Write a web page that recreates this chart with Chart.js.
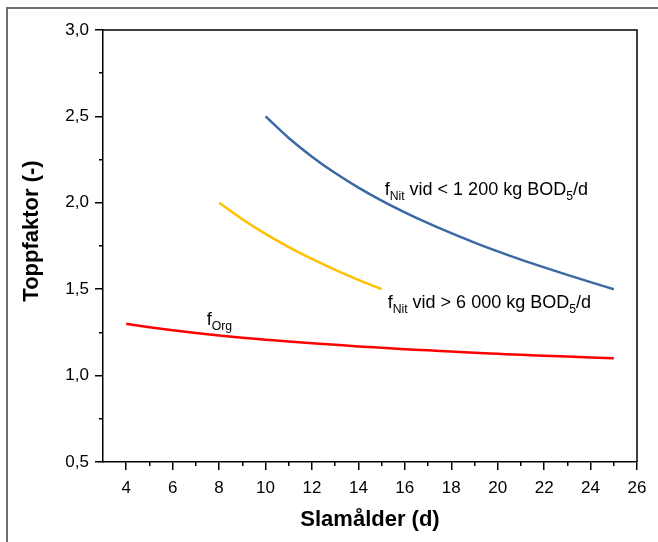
<!DOCTYPE html>
<html>
<head>
<meta charset="utf-8">
<script src="https://cdn.jsdelivr.net/npm/chart.js@4"></script>
<style>
  html, body { margin: 0; padding: 0; background: #fff; overflow: hidden; }
  #frame { position: absolute; left: 6px; top: 7px; width: 720px; height: 620px; border: 2px solid #6e6e6e; box-sizing: border-box; }
  #chart { position: absolute; left: 0; top: 0; }
</style>
</head>
<body>
<div id="frame"></div>
<canvas id="chart" width="658" height="542"></canvas>
<script>
// values
const orgDays = [4, 5, 6, 7, 8, 9, 10, 11, 12, 13, 14, 15, 16, 17, 18, 19, 20, 21, 22, 23, 24, 25];
const orgFactor = [1.300, 1.280, 1.262, 1.246, 1.232, 1.219, 1.208, 1.197, 1.187, 1.178, 1.169, 1.161, 1.153, 1.146, 1.139, 1.132, 1.126, 1.120, 1.115, 1.110, 1.105, 1.100];

const nitLowDays = [10, 11, 12, 13, 14, 15, 16, 17, 18, 19, 20, 21, 22, 23, 24, 25];
const nitLowFactor = [2.500, 2.375, 2.267, 2.172, 2.088, 2.013, 1.945, 1.882, 1.824, 1.770, 1.719, 1.671, 1.626, 1.583, 1.541, 1.500];

const nitHighDays = [8, 9, 10, 11, 12, 13, 14, 15];
const nitHighFactor = [2.000, 1.905, 1.820, 1.744, 1.675, 1.612, 1.554, 1.500];

const xTicks = [4, 6, 8, 10, 12, 14, 16, 18, 20, 22, 24, 26];
const xMinorTicks = [5, 7, 9, 11, 13, 15, 17, 19, 21, 23, 25];
const yTicks = [0.5, 1.0, 1.5, 2.0, 2.5, 3.0];
const yMinorTicks = [0.75, 1.25, 1.75, 2.25, 2.75];

const xTitle = "Slamålder (d)";
const yTitle = "Toppfaktor (-)";

// labels on the curves: text parts, anchor in data units (x, y of baseline)
const noteNitLow = [{ t: "f" }, { t: "Nit", sub: true }, { t: " vid < 1 200 kg BOD" }, { t: "5", sub: true }, { t: "/d" }];
const noteNitHigh = [{ t: "f" }, { t: "Nit", sub: true }, { t: " vid > 6 000 kg BOD" }, { t: "5", sub: true }, { t: "/d" }];
const noteOrg = [{ t: "f" }, { t: "Org", sub: true }];
const notes = [
  { parts: noteNitLow, at: [15.13, 2.045] },
  { parts: noteNitHigh, at: [15.26, 1.391] },
  { parts: noteOrg, at: [7.47, 1.293] },
];

const FONT = '"Liberation Sans", Arial, sans-serif';

function pairs(xs, ys) {
  return xs.map((x, i) => ({ x: x, y: ys[i] }));
}

function curve(label, xs, ys, color) {
  return {
    label: label,
    data: pairs(xs, ys),
    borderColor: color,
    borderWidth: 2.5,
    pointRadius: 0,
    cubicInterpolationMode: "monotone",
    fill: false,
  };
}

function drawRich(ctx, x, y, parts, size) {
  let cx = x;
  parts.forEach((p) => {
    const s = p.sub ? size * 0.68 : size;
    ctx.font = `${s}px ${FONT}`;
    ctx.fillText(p.t, cx, p.sub ? y + size * 0.26 : y);
    cx += ctx.measureText(p.t).width;
  });
}

const extras = {
  id: "extras",
  afterDraw(chart) {
    const { ctx, chartArea, scales } = chart;
    ctx.save();
    // top and right sides of the plot box
    ctx.strokeStyle = "#000";
    ctx.lineWidth = 1.5;
    ctx.beginPath();
    ctx.moveTo(chartArea.left, chartArea.top);
    ctx.lineTo(chartArea.right, chartArea.top);
    ctx.lineTo(chartArea.right, chartArea.bottom);
    ctx.stroke();

    ctx.fillStyle = "#000";
    ctx.textBaseline = "alphabetic";
    ctx.textAlign = "left";
    notes.forEach((n) => {
      drawRich(ctx, scales.x.getPixelForValue(n.at[0]), scales.y.getPixelForValue(n.at[1]), n.parts, 18);
    });

    // axis titles
    ctx.font = `bold 22px ${FONT}`;
    ctx.textAlign = "center";
    ctx.textBaseline = "middle";
    ctx.fillText(xTitle, (chartArea.left + chartArea.right) / 2, 520);
    ctx.translate(32, 231);
    ctx.rotate(-Math.PI / 2);
    ctx.fillText(yTitle, 0, 0);
    ctx.restore();
  },
};

const tickFont = { family: FONT, size: 17 };

new Chart(document.getElementById("chart"), {
  type: "line",
  data: {
    datasets: [
      curve("fNit < 1200", nitLowDays, nitLowFactor, "#3a69a3"),
      curve("fNit > 6000", nitHighDays, nitHighFactor, "#ffc000"),
      curve("fOrg", orgDays, orgFactor, "#ff0000"),
    ],
  },
  options: {
    responsive: false,
    devicePixelRatio: 1,
    animation: false,
    layout: { padding: { left: 0, top: 30, right: 21, bottom: 0 } },
    plugins: { legend: { display: false }, tooltip: { enabled: false } },
    scales: {
      x: {
        type: "linear",
        position: "bottom",
        weight: 1,
        min: 3,
        max: 26,
        afterBuildTicks: (s) => { s.ticks = xTicks.map((v) => ({ value: v })); },
        afterFit: (s) => { s.height = 80; },
        ticks: { color: "#000", font: tickFont, padding: 8, maxRotation: 0, autoSkip: false },
        grid: { drawOnChartArea: false, tickLength: 8, color: "#000", lineWidth: 1.5 },
        border: { display: true, color: "#000", width: 1.5 },
      },
      xMinor: {
        type: "linear",
        position: "bottom",
        weight: 0,
        min: 3,
        max: 26,
        afterBuildTicks: (s) => { s.ticks = xMinorTicks.map((v) => ({ value: v })); },
        afterFit: (s) => { s.height = 0; },
        ticks: { display: false },
        grid: { drawOnChartArea: false, tickLength: 4, color: "#000", lineWidth: 1.5 },
        border: { display: false },
      },
      y: {
        type: "linear",
        position: "left",
        weight: 1,
        min: 0.5,
        max: 3.0,
        afterBuildTicks: (s) => { s.ticks = yTicks.map((v) => ({ value: v })); },
        afterFit: (s) => { s.width = 103; },
        ticks: {
          color: "#000",
          font: tickFont,
          padding: 6,
          callback: (v) => v.toFixed(1).replace(".", ","),
        },
        grid: { drawOnChartArea: false, tickLength: 8, color: "#000", lineWidth: 1.5 },
        border: { display: true, color: "#000", width: 1.5 },
      },
      yMinor: {
        type: "linear",
        position: "left",
        weight: 0,
        min: 0.5,
        max: 3.0,
        afterBuildTicks: (s) => { s.ticks = yMinorTicks.map((v) => ({ value: v })); },
        afterFit: (s) => { s.width = 0; },
        ticks: { display: false },
        grid: { drawOnChartArea: false, tickLength: 4, color: "#000", lineWidth: 1.5 },
        border: { display: false },
      },
    },
  },
  plugins: [extras],
});
</script>
</body>
</html>
